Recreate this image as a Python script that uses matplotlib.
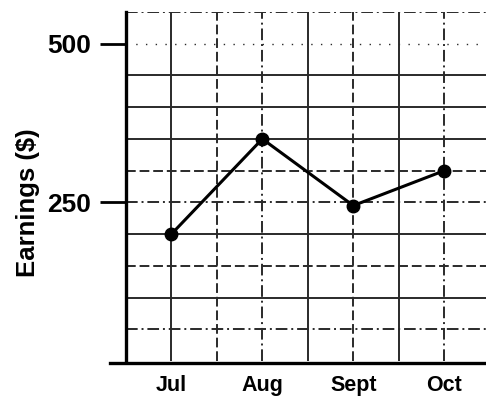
import matplotlib

matplotlib.use("Agg")
import matplotlib.pyplot as plt
import numpy as np

# ── Data ──────────────────────────────────────────────────────────────────────

MONTHS = ["Jul", "Aug", "Sept", "Oct"]
EARNINGS = [200, 350, 245, 300]
Y_TICKS = [250, 500]

# grid every $50 and every half month; styles mimic the scanned worksheet
H_GRID = [50, 100, 150, 200, 250, 300, 350, 400, 450, 500, 550]
H_STYLE = [(0, (6, 2, 1, 2)), "-", (0, (5, 2)), "-", (0, (6, 2, 1, 2)),
           (0, (5, 2)), "-", "-", "-", (0, (1, 6)), (0, (6, 2, 1, 2))]
V_GRID = [1.0, 1.5, 2.0, 2.5, 3.0, 3.5, 4.0]
V_STYLE = ["-", (0, (5, 2)), (0, (6, 2, 1, 2)), "-", (0, (5, 2)), "-", (0, (6, 2, 1, 2))]

plt.rcParams["font.family"] = ["Liberation Sans", "DejaVu Sans"]

fig = plt.figure(figsize=(4.86, 3.99), dpi=100)
ax = fig.add_axes([0.259, 0.095, 0.745, 0.875])

x = np.arange(1, len(MONTHS) + 1)

for yv, ls in zip(H_GRID, H_STYLE):
    ax.axhline(yv, color="#2a2a2a", linewidth=1.4 if ls != (0, (1, 6)) else 1.0,
               linestyle=ls, zorder=1)
for xv, ls in zip(V_GRID, V_STYLE):
    ax.axvline(xv, color="#2a2a2a", linewidth=1.4, linestyle=ls, zorder=1)

ax.plot(x, EARNINGS, color="black", linewidth=2.2, marker="o",
        markersize=9, zorder=3)

ax.set_xlim(0.5, 4.48)
ax.set_ylim(0, 550)

ax.set_xticks(x)
ax.set_xticklabels(MONTHS, fontsize=15.5, fontweight="bold")
ax.tick_params(axis="x", length=0, pad=10)

ax.set_yticks(Y_TICKS)
ax.set_yticklabels([str(v) for v in Y_TICKS], fontsize=19, fontweight="bold")
ax.tick_params(axis="y", length=19, width=2, pad=6)

ax.set_ylabel("Earnings ($)", fontsize=18.5, fontweight="bold")
ax.yaxis.set_label_coords(-0.236, 0.455)

for side in ["top", "right"]:
    ax.spines[side].set_visible(False)
ax.spines["left"].set_linewidth(2.4)
ax.spines["bottom"].set_visible(False)
# bottom axis line runs a little past the left axis
ax.plot([-0.045, 1.0], [-0.005, -0.005], transform=ax.transAxes, color="black",
        linewidth=2.4, clip_on=False, zorder=4)

fig.savefig("out.png", dpi=100)
